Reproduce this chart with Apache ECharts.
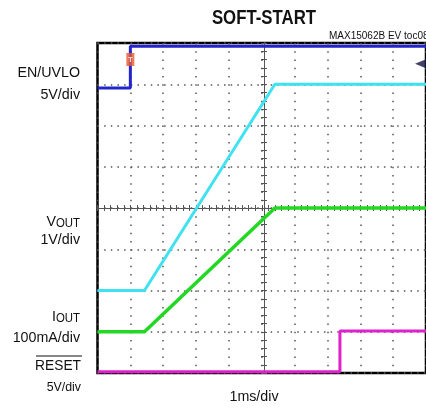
<!DOCTYPE html>
<html>
<head>
<meta charset="utf-8">
<script src="https://cdn.jsdelivr.net/npm/echarts@6/dist/echarts.min.js"></script>
<style>
html,body{margin:0;padding:0;background:#fff;}
#c{width:426px;height:408px;}
</style>
</head>
<body>
<div id="c"></div>
<script>
// time in ms (1 ms/div), vertical position in screen divisions (0 = bottom, 8 = top)
const enTime = [0, 1.0, 1.0, 10];
const enDiv = [6.91, 6.91, 7.92, 7.92];
const voutTime = [0, 1.43, 5.4, 10];
const voutDiv = [2.0, 2.0, 7.0, 7.0];
const ioutTime = [0, 1.43, 5.4, 10];
const ioutDiv = [1.0, 1.0, 4.0, 4.0];
const resetTime = [0, 7.38, 7.38, 10];
const resetDiv = [0.03, 0.03, 1.02, 1.02];
const triggerMarker = [1.0, 7.6];
const levelMarker = [10, 7.5];

const titleText = 'SOFT-START';
const tocText = 'MAX15062B EV toc08';
const timeLabel = '1ms/div';

const pair = (xs, ys) => xs.map((x, i) => [x, ys[i]]);

const chart = echarts.init(document.getElementById('c'), null, {renderer: 'canvas'});

const gridCol = '#555';
const centerAxisX = (inside) => ({
  type: 'value', min: 0, max: 10, interval: 1, position: 'bottom', offset: -165,
  axisLine: {show: true, onZero: false, lineStyle: {color: gridCol, width: 1}},
  axisTick: {show: true, inside: inside, length: 3, lineStyle: {color: gridCol}},
  minorTick: {show: true, splitNumber: 5, length: 3, lineStyle: {color: gridCol}},
  axisLabel: {show: false}, splitLine: {show: false}
});
const centerAxisY = (inside) => ({
  type: 'value', min: 0, max: 8, interval: 1, position: 'left', offset: -166.5,
  axisLine: {show: true, onZero: false, lineStyle: {color: gridCol, width: 1}},
  axisTick: {show: true, inside: inside, length: 3, lineStyle: {color: gridCol}},
  minorTick: {show: true, splitNumber: 5, length: 3, lineStyle: {color: gridCol}},
  axisLabel: {show: false}, splitLine: {show: false}
});

const FONT = '"Liberation Sans", Arial, sans-serif';
const lbl = (text, x, y, size) => ({
  type: 'text', z: 100, x: x, y: y, scaleX: 0.95,
  style: {text: text, x: 0, y: 0, fill: '#111', font: size + 'px ' + FONT,
    align: 'right', verticalAlign: 'middle', textAlign: 'right', textVerticalAlign: 'middle'}
});
const sub = (big, small, x, y) => ({
  type: 'text', z: 100, x: x, y: y, scaleX: 0.95,
  style: {text: '{a|' + big + '}{b|' + small + '}', x: 0, y: 0,
    align: 'right', verticalAlign: 'middle', textAlign: 'right', textVerticalAlign: 'middle',
    rich: {
      a: {fontSize: 15, fontFamily: FONT, fill: '#111', color: '#111', verticalAlign: 'bottom'},
      b: {fontSize: 12, fontFamily: FONT, fill: '#111', color: '#111', verticalAlign: 'bottom'}
    }}
});

const option = {
  backgroundColor: '#fff',
  animation: false,
  grid: {left: 97.5, top: 43, width: 333, height: 330, show: true, borderColor: '#000', borderWidth: 2.5, backgroundColor: '#fff'},
  xAxis: [
    {type: 'value', min: 0, max: 10, interval: 1,
     axisLine: {show: false, onZero: false}, axisTick: {show: false}, axisLabel: {show: false},
     splitLine: {show: true, lineStyle: {color: gridCol, width: 1.5, type: [1.5, 6.75]}}},
    centerAxisX(false), centerAxisX(true)
  ],
  yAxis: [
    {type: 'value', min: 0, max: 8, interval: 1,
     axisLine: {show: false, onZero: false}, axisTick: {show: false}, axisLabel: {show: false},
     splitLine: {show: true, lineStyle: {color: gridCol, width: 1.5, type: [1.5, 5.16]}}},
    centerAxisY(false), centerAxisY(true)
  ],
  series: [
    {name: 'RESET', type: 'line', data: pair(resetTime, resetDiv), symbol: 'none', clip: false,
     lineStyle: {color: '#dd22cc', width: 3}},
    {name: 'IOUT', type: 'line', data: pair(ioutTime, ioutDiv), symbol: 'none', clip: false,
     lineStyle: {color: '#22d822', width: 3.5}},
    {name: 'VOUT', type: 'line', data: pair(voutTime, voutDiv), symbol: 'none', clip: false,
     lineStyle: {color: '#3fe2f0', width: 3}},
    {name: 'EN/UVLO', type: 'line', data: pair(enTime, enDiv), symbol: 'none', clip: false,
     lineStyle: {color: '#2424cc', width: 3}},
    {name: 'trigger', type: 'scatter', data: [triggerMarker], symbol: 'rect', symbolSize: [8, 13], z: 5,
     itemStyle: {color: '#e85a30'},
     label: {show: true, formatter: 'T', position: 'inside', color: '#fff', fontSize: 8, fontWeight: 'bold'}},
    {name: 'level', type: 'scatter', data: [levelMarker], symbol: 'diamond', symbolSize: [22, 9], z: 5,
     itemStyle: {color: '#141444'}}
  ],
  graphic: [
    {type: 'text', z: 100, x: 264, y: 18, scaleX: 0.8,
     style: {text: titleText, x: 0, y: 0, fill: '#111',
      font: 'bold 21px ' + FONT,
      align: 'center', verticalAlign: 'middle', textAlign: 'center', textVerticalAlign: 'middle'}},
    {type: 'text', z: 100, style: {text: tocText, x: 329, y: 36.5, fill: '#111',
      font: '10px ' + FONT,
      align: 'left', verticalAlign: 'middle', textAlign: 'left', textVerticalAlign: 'middle'}},
    {type: 'text', z: 100, x: 254, y: 396.5, scaleX: 0.95,
     style: {text: timeLabel, x: 0, y: 0, fill: '#111',
      font: '15px ' + FONT,
      align: 'center', verticalAlign: 'middle', textAlign: 'center', textVerticalAlign: 'middle'}},
    lbl('EN/UVLO', 80, 73, 15),
    lbl('5V/div', 80, 95, 15),
    sub('V', 'OUT', 80, 222),
    lbl('1V/div', 80, 240, 15),
    sub('I', 'OUT', 80, 317),
    lbl('100mA/div', 80, 338, 15),
    lbl('RESET', 81, 366, 14.5),
    {type: 'line', z: 100, shape: {x1: 36, y1: 356, x2: 82, y2: 356}, style: {stroke: '#111', lineWidth: 1}},
    lbl('5V/div', 81, 387.5, 13)
  ]
};
chart.setOption(option);
</script>
</body>
</html>
